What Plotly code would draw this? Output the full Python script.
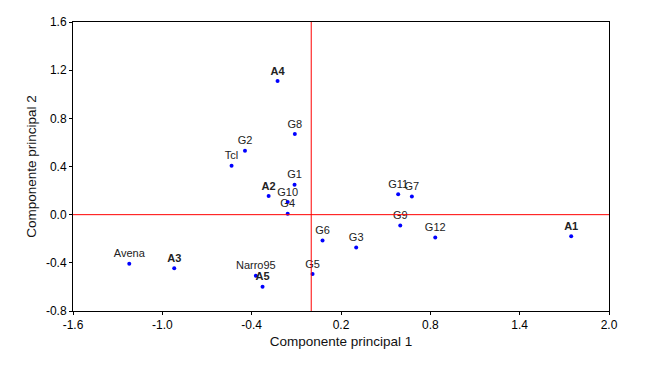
import plotly.graph_objects as go

labels = ["A1", "A2", "A3", "A4", "A5", "G1", "G2", "G3", "G4", "G5", "G6", "G7",
          "G8", "G9", "G10", "G11", "G12", "Tcl", "Avena", "Narro95"]
pc1 = [1.746, -0.286, -0.920, -0.226, -0.327, -0.112, -0.445, 0.302, -0.158, 0.009,
       0.076, 0.676, -0.110, 0.598, -0.158, 0.584, 0.833, -0.535, -1.222, -0.372]
pc2 = [-0.180, 0.154, -0.444, 1.110, -0.598, 0.249, 0.531, -0.272, 0.008, -0.493,
       -0.214, 0.150, 0.669, -0.091, 0.105, 0.169, -0.189, 0.407, -0.407, -0.507]
bold_labels = ["A1", "A2", "A3", "A4", "A5"]

x_ticks = [-1.6, -1.0, -0.4, 0.2, 0.8, 1.4, 2.0]
y_ticks = [-0.8, -0.4, 0.0, 0.4, 0.8, 1.2, 1.6]
x_tick_text = [f"{v:.1f}" for v in x_ticks]
y_tick_text = [f"{v:.1f}" for v in y_ticks]

texts = [f"<b>{l}</b>" if l in bold_labels else l for l in labels]

fig = go.Figure()
fig.add_trace(go.Scatter(
    x=pc1, y=pc2, mode="markers+text", text=texts, textposition="top center",
    textfont=dict(family="Liberation Sans, Arial", size=11, color="#222222"),
    marker=dict(color="#0000FF", size=4),
    cliponaxis=False, showlegend=False, hoverinfo="skip"))

fig.add_shape(type="line", xref="x", yref="paper", x0=0, x1=0, y0=0, y1=1,
              line=dict(color="#FF0000", width=1))
fig.add_shape(type="line", xref="paper", yref="y", x0=0, x1=1, y0=0, y1=0,
              line=dict(color="#FF0000", width=1))

axis_common = dict(showgrid=False, zeroline=False, showline=True, linecolor="black",
                   linewidth=1, mirror=True, ticks="outside", ticklen=3,
                   tickcolor="black", automargin=False,
                   tickfont=dict(family="Liberation Sans, Arial", size=12, color="black"),
                   title_font=dict(family="Liberation Sans, Arial", size=13.5, color="#111111"))

fig.update_xaxes(range=[-1.6, 2.0], tickvals=x_ticks, ticktext=x_tick_text,
                 title_text="Componente principal 1", title_standoff=5, **axis_common)
fig.update_yaxes(range=[-0.8, 1.6], tickvals=y_ticks, ticktext=y_tick_text,
                 title_text="Componente principal 2", title_standoff=6, **axis_common)

# the page body adds an 8px margin, so the figure is sized to fit the window
fig.update_layout(width=638, height=375, margin=dict(l=65, r=37, t=14, b=72),
                  plot_bgcolor="white", paper_bgcolor="white",
                  font=dict(family="Liberation Sans, Arial"))

fig.write_html("out.html")
